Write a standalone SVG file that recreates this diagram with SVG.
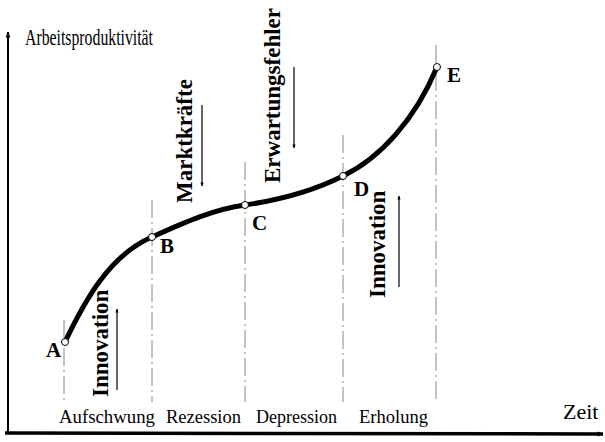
<svg xmlns="http://www.w3.org/2000/svg" width="605" height="442" viewBox="0 0 605 442">
<style>
.lbl{font-family:"Liberation Serif","Times New Roman",serif;font-weight:bold;font-size:21px;fill:#000}
.rot{font-family:"Liberation Serif","Times New Roman",serif;font-weight:bold;font-size:23px;fill:#000}
.ax{font-family:"Liberation Serif","Times New Roman",serif;font-size:18.5px;fill:#000}
.guide{stroke:#888;stroke-width:1;fill:none;stroke-dasharray:18 4 2 4}
.force{stroke:#000;stroke-width:1.2;fill:none}
.pt{fill:#fff;stroke:#000;stroke-width:1}
</style>
<defs>
<marker id="ah" viewBox="0 0 10 10" refX="9" refY="5" markerWidth="4" markerHeight="4" orient="auto" markerUnits="userSpaceOnUse">
<path d="M0,1 L10,5 L0,9 z" fill="#000"/>
</marker>
<marker id="axh" viewBox="0 0 10 10" refX="9" refY="5" markerWidth="7" markerHeight="6" orient="auto" markerUnits="userSpaceOnUse">
<path d="M0,1 L10,5 L0,9 z" fill="#000"/>
</marker>
</defs>
<rect width="605" height="442" fill="#fff"/>
<g id="axes">
<line x1="8" y1="433" x2="8" y2="32" stroke="#000" stroke-width="2" marker-end="url(#axh)"/>
<line x1="5" y1="433" x2="603" y2="434" stroke="#000" stroke-width="3.5" marker-end="url(#axh)"/>
<text x="25" y="45" font-family="Liberation Serif, Times New Roman, serif" font-size="24" textLength="128" lengthAdjust="spacingAndGlyphs">Arbeitsproduktivität</text>
<text x="563" y="419" font-family="Liberation Serif, Times New Roman, serif" font-size="22">Zeit</text>
</g>
<g id="guides">
<line class="guide" x1="64" y1="320" x2="64" y2="402"/>
<line class="guide" x1="152" y1="200" x2="152" y2="402"/>
<line class="guide" x1="245" y1="162" x2="245" y2="402"/>
<line class="guide" x1="343" y1="135" x2="343" y2="402"/>
<line class="guide" x1="436" y1="45" x2="436" y2="402"/>
</g>
<g id="phases">
<text class="ax" x="59" y="423" textLength="96" lengthAdjust="spacingAndGlyphs">Aufschwung</text>
<text class="ax" x="166" y="423" textLength="75" lengthAdjust="spacingAndGlyphs">Rezession</text>
<text class="ax" x="256" y="423" textLength="81" lengthAdjust="spacingAndGlyphs">Depression</text>
<text class="ax" x="359" y="423" textLength="69" lengthAdjust="spacingAndGlyphs">Erholung</text>
</g>
<g id="curve">
<path d="M65,342 C85,300 110,255 152,237 C185,222 215,209 245,205 C280,200 315,190 343,176 C380,158 415,120 437,67" stroke="#000" stroke-width="5" fill="none"/>
</g>
<g id="connectors">
<line class="force" x1="117" y1="390" x2="117" y2="309" marker-end="url(#ah)"/>
<line class="force" x1="202" y1="105" x2="202" y2="186" marker-end="url(#ah)"/>
<line class="force" x1="294" y1="67" x2="294" y2="148" marker-end="url(#ah)"/>
<line class="force" x1="399" y1="287" x2="399" y2="196" marker-end="url(#ah)"/>
</g>
<g id="forces">
<text class="rot" transform="translate(108,397) rotate(-90)">Innovation</text>
<text class="rot" transform="translate(192,203) rotate(-90)">Marktkräfte</text>
<text class="rot" transform="translate(280,183) rotate(-90)">Erwartungsfehler</text>
<text class="rot" transform="translate(385,298) rotate(-90)">Innovation</text>
</g>
<g id="nodeA"><circle class="pt" cx="65" cy="342" r="3.5"/><text class="lbl" x="46" y="357">A</text></g>
<g id="nodeB"><circle class="pt" cx="152" cy="237" r="3.5"/><text class="lbl" x="160" y="253">B</text></g>
<g id="nodeC"><circle class="pt" cx="245" cy="205" r="3.5"/><text class="lbl" x="252" y="230">C</text></g>
<g id="nodeD"><circle class="pt" cx="343" cy="176" r="3.5"/><text class="lbl" x="354" y="196">D</text></g>
<g id="nodeE"><circle class="pt" cx="437" cy="67" r="3.5"/><text class="lbl" x="447" y="82">E</text></g>
</svg>
